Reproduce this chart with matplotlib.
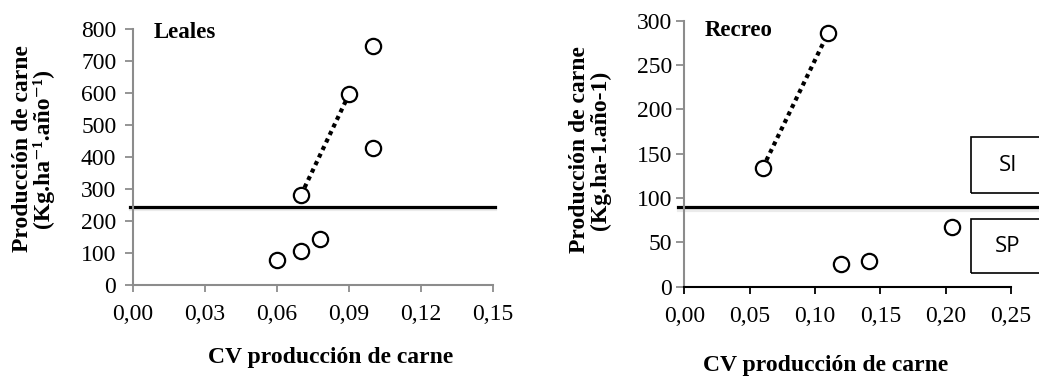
import numpy as np
import matplotlib
matplotlib.use("Agg")
import matplotlib.pyplot as plt
import matplotlib.patheffects as pe
from matplotlib.patches import Rectangle

plt.rcParams["font.family"] = ["Liberation Serif", "DejaVu Serif"]

# Leales
leales_cv = [0.100, 0.090, 0.100, 0.070, 0.078, 0.070, 0.060]
leales_prod = [748, 596, 429, 281, 145, 106, 78]
leales_trend_cv = [0.070, 0.090]
leales_trend_prod = [281, 596]
leales_limit = 245
leales_xticks = [0.00, 0.03, 0.06, 0.09, 0.12, 0.15]
leales_yticks = [0, 100, 200, 300, 400, 500, 600, 700, 800]

# Recreo
recreo_cv = [0.110, 0.060, 0.120, 0.141, 0.205]
recreo_prod = [286, 134, 26, 29, 67]
recreo_trend_cv = [0.060, 0.110]
recreo_trend_prod = [134, 286]
recreo_limit = 90
recreo_xticks = [0.00, 0.05, 0.10, 0.15, 0.20, 0.25]
recreo_yticks = [0, 50, 100, 150, 200, 250, 300]

W, H = 1039, 376
fig = plt.figure(figsize=(W / 100, H / 100), dpi=100)


def px_axes(left, top, right, bottom):
    return fig.add_axes([left / W, 1 - bottom / H, (right - left) / W, (bottom - top) / H])


def fmt(v):
    return f"{v:.2f}".replace(".", ",")


def draw_panel(ax, cv, prod, tcv, tprod, limit, xticks, yticks, title,
               title_pos, hl_min, hl_max, bottom_color, ypad):
    ax.plot(tcv, tprod, color="black", lw=3, linestyle=(0, (1, 1)),
            solid_capstyle="butt", zorder=2)
    ax.plot(cv, prod, "o", ms=11, mfc="white", mec="black", mew=1.6,
            linestyle="none", zorder=3, clip_on=False)
    ax.axhline(limit, xmin=hl_min, xmax=hl_max, color="black", lw=2.3,
               clip_on=False, zorder=1,
               path_effects=[pe.SimpleLineShadow(offset=(0, -2), alpha=0.08,
                                                 shadow_color="black"),
                             pe.Normal()])
    ax.set_xlim(xticks[0], xticks[-1])
    ax.set_ylim(yticks[0], yticks[-1])
    ax.set_xticks(xticks)
    ax.set_xticklabels([fmt(v) for v in xticks])
    ax.set_yticks(yticks)
    ax.tick_params(axis="x", direction="out", length=5, width=1.3,
                   color=bottom_color, labelsize=17, pad=9)
    ax.tick_params(axis="y", direction="out", length=6, width=1.3,
                   color="#8c8c8c", labelsize=17, pad=ypad)
    for s in ["top", "right"]:
        ax.spines[s].set_visible(False)
    ax.spines["left"].set_color("#8c8c8c")
    ax.spines["left"].set_linewidth(1.5)
    ax.spines["bottom"].set_color(bottom_color)
    ax.spines["bottom"].set_linewidth(1.5)
    ax.patch.set_alpha(0)
    ax.text(title_pos[0], title_pos[1], title, transform=ax.transAxes,
            fontsize=16.5, fontweight="bold", ha="left", va="center")


ax1 = px_axes(133, 29, 493, 285)
draw_panel(ax1, leales_cv, leales_prod, leales_trend_cv, leales_trend_prod,
           leales_limit, leales_xticks, leales_yticks, "Leales", (0.058, 0.985),
           -0.008, 1.006, "#8c8c8c", 6)

ax2 = px_axes(684.3, 20.7, 1011, 286.7)
draw_panel(ax2, recreo_cv, recreo_prod, recreo_trend_cv, recreo_trend_prod,
           recreo_limit, recreo_xticks, recreo_yticks, "Recreo", (0.063, 0.962),
           -0.02, 1.1, "black", 3)

# y labels
fig.text(33 / W, 1 - 149 / H,
         "Producción de carne\n(Kg.ha⁻¹.año⁻¹)",
         rotation=90, ha="center", va="center", fontsize=17,
         fontweight="bold", multialignment="center", linespacing=0.95)
fig.text(590 / W, 1 - 150 / H,
         "Producción de carne\n(Kg.ha-1.año-1)",
         rotation=90, ha="center", va="center", fontsize=17,
         fontweight="bold", multialignment="center", linespacing=0.95)

# x labels
fig.text(331 / W, 1 - 358 / H, "CV producción de carne", ha="center",
         va="center", fontsize=17, fontweight="bold")
fig.text(826 / W, 1 - 365 / H, "CV producción de carne", ha="center",
         va="center", fontsize=17, fontweight="bold")

# SI / SP boxes
for label, top, bottom in [("SI", 137.3, 193.3), ("SP", 219, 273.3)]:
    fig.patches.append(Rectangle((970.7 / W, 1 - bottom / H), 100 / W,
                                 (bottom - top) / H, transform=fig.transFigure,
                                 fill=False, edgecolor="black", lw=1.2))
    fig.text(1008 / W, 1 - (top + bottom) / 2 / H, label, ha="center",
             va="center", fontsize=16, family=["Open Sans", "DejaVu Sans"])

fig.savefig("out.png", dpi=100)
